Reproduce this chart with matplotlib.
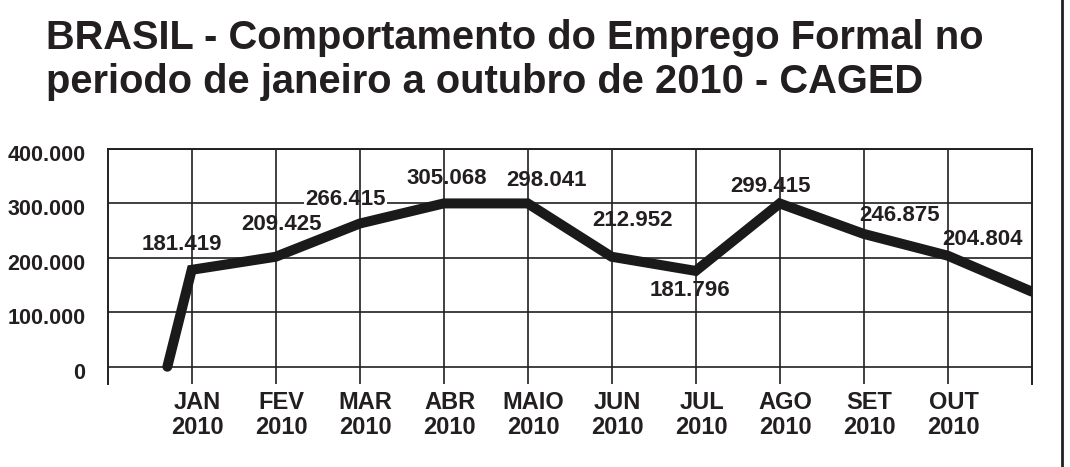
import numpy as np
import matplotlib.pyplot as plt
import matplotlib.transforms as mtransforms
from matplotlib.lines import Line2D

plt.rcParams['font.family'] = ['Liberation Sans', 'DejaVu Sans']
plt.rcParams['font.weight'] = 'bold'

# ---- data ----
title_lines = ['BRASIL - Comportamento do Emprego Formal no',
               'periodo de janeiro a outubro de 2010 - CAGED']
months = ['JAN', 'FEV', 'MAR', 'ABR', 'MAIO', 'JUN', 'JUL', 'AGO', 'SET', 'OUT']
year = '2010'
# the drawn line starts at zero just before JAN and runs on past OUT
line_x = [0.71, 1, 2, 3, 4, 5, 6, 7, 8, 9, 10, 11]
line_y = [0, 178000, 202000, 263000, 300000, 300000, 202000, 176000,
          300000, 244000, 204000, 138000]
# printed values for each month
value_labels = ['181.419', '209.425', '266.415', '305.068', '298.041',
                '212.952', '181.796', '299.415', '246.875', '204.804']
y_ticks = [0, 100000, 200000, 300000, 400000]
y_ticklabels = ['0', '100.000', '200.000', '300.000', '400.000']

INK = '#231f20'
W, H = 1070, 467

fig = plt.figure(figsize=(W / 100, H / 100), dpi=100)
ax = fig.add_axes([107.7 / W, 1 - 384 / H, 924 / W, 235 / H])

ax.set_xlim(0, 11)
ax.set_ylim(-31800, 400000)

# horizontal grid sits under the value labels, vertical lines on top of them
ax.set_yticks(y_ticks)
ax.set_yticklabels(y_ticklabels)
ax.set_axisbelow(True)
ax.grid(axis='y', color=INK, linewidth=1.2)
month_pos = np.arange(1, len(months) + 1)
for xp in month_pos:
    ax.axvline(xp, color=INK, linewidth=1.2, zorder=3)

ax.set_xticks(month_pos)
ax.set_xticklabels([f'{m}\n{year}' for m in months], fontsize=17,
                   linespacing=1.12, color=INK)
ax.tick_params(axis='both', length=0, colors=INK)
ax.tick_params(axis='x', pad=5)
ax.tick_params(axis='y', pad=16, labelsize=15.5)

shift_x = mtransforms.ScaledTranslation(0.06, 0, fig.dpi_scale_trans)
for lab in ax.get_xticklabels():
    lab.set_transform(lab.get_transform() + shift_x)
shift_y = mtransforms.ScaledTranslation(0, -0.04, fig.dpi_scale_trans)
for lab in ax.get_yticklabels():
    lab.set_transform(lab.get_transform() + shift_y)

for side in ['top', 'left', 'right']:
    ax.spines[side].set_color(INK)
    ax.spines[side].set_linewidth(1.4)
ax.spines['bottom'].set_visible(False)

ax.plot(line_x, line_y, color='#1a1a1a', linewidth=7.2,
        solid_capstyle='round', solid_joinstyle='miter', zorder=4)

# label offsets (points) from each month's point on the line
offsets = [(-7, 18), (4, 23.5), (-10, 17), (2.5, 18), (13.5, 16.5),
           (15, 26), (-4, -14), (-6.5, 12.5), (26, 13.5), (25, 11.5)]
for i, txt in enumerate(value_labels):
    ax.annotate(txt, (line_x[i + 1], line_y[i + 1]), xytext=offsets[i],
                textcoords='offset points', ha='center', va='center',
                fontsize=16, color=INK, zorder=2,
                bbox=dict(boxstyle='square,pad=0.05', facecolor='white',
                          edgecolor='none'))

fig.text(46 / W, 1 - 49 / H, title_lines[0], fontsize=28.7, color=INK,
         va='baseline', ha='left')
fig.text(46 / W, 1 - 93 / H, title_lines[1], fontsize=28.7, color=INK,
         va='baseline', ha='left')

fig.add_artist(Line2D([1062 / W, 1062 / W], [0, 1], transform=fig.transFigure,
                      color=INK, linewidth=2))

fig.savefig('out.png', dpi=100)
